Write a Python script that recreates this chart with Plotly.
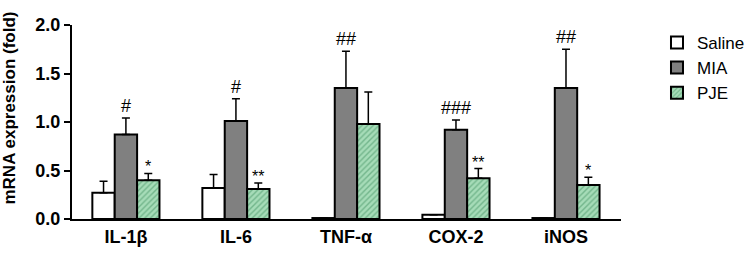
import plotly.graph_objects as go

genes = ["IL-1β", "IL-6", "TNF-α", "COX-2", "iNOS"]

saline = [0.27, 0.32, 0.01, 0.045, 0.01]
saline_err = [0.12, 0.14, 0, 0, 0]

mia = [0.87, 1.01, 1.35, 0.92, 1.35]
mia_err = [0.17, 0.23, 0.38, 0.10, 0.40]

pje = [0.40, 0.31, 0.98, 0.42, 0.35]
pje_err = [0.07, 0.06, 0.33, 0.10, 0.08]

mia_marks = ["#", "#", "##", "###", "##"]
pje_marks = ["*", "**", "", "**", "*"]


def err(vals):
    return dict(type="data", array=vals, arrayminus=[0] * len(vals), symmetric=False,
                color="black", thickness=1.5, width=4)


fig = go.Figure()
fig.add_bar(x=genes, y=saline, name="Saline", error_y=err(saline_err),
            marker=dict(color="white", line=dict(color="black", width=2)))
fig.add_bar(x=genes, y=mia, name="MIA", error_y=err(mia_err),
            marker=dict(color="#808080", line=dict(color="black", width=2)))
fig.add_bar(x=genes, y=pje, name="PJE", error_y=err(pje_err),
            marker=dict(color="#a6dcb8", line=dict(color="black", width=2),
                        pattern=dict(shape="/", fgcolor="#3f8f5f", size=4, solidity=0.35)))

# significance marks above the error bars
for g, v, e, m in zip(genes, mia, mia_err, mia_marks):
    fig.add_annotation(x=g, y=v + e, text=m, showarrow=False, yanchor="bottom",
                       yshift=0, font=dict(family="Arial", size=18, color="black"))
for g, v, e, m in zip(genes, pje, pje_err, pje_marks):
    if m:
        fig.add_annotation(x=g, y=v + e, text=m, showarrow=False, xshift=22.5, yanchor="bottom",
                           yshift=-4, font=dict(family="Arial", size=16, color="black"))

# y axis title, sitting against the left edge like the original
fig.add_annotation(xref="paper", yref="paper", x=0, y=0.572, xshift=-74, textangle=-90,
                   text="<b>mRNA expression (fold)</b>", showarrow=False,
                   font=dict(family="Arial", size=17, color="black"))

fig.update_layout(
    width=753, height=254,
    margin=dict(l=72, r=132, t=25, b=35, autoexpand=False),
    plot_bgcolor="white", paper_bgcolor="white",
    barmode="group", bargap=0.39, bargroupgap=0,
    legend=dict(xref="container", yref="container", x=0.8725, y=0.902,
                xanchor="left", yanchor="top",
                font=dict(family="Arial", size=17, color="black"),
                tracegroupgap=0, itemsizing="constant"),
    xaxis=dict(showline=True, linecolor="black", linewidth=2, ticks="",
               range=[-0.49, 4.5], automargin=False,
               tickfont=dict(family="Arial", size=18, color="black", weight="bold")),
    yaxis=dict(showline=True, linecolor="black", linewidth=2, ticks="outside",
               ticklen=6, tickwidth=2, tickcolor="black", range=[0, 2], dtick=0.5,
               tickformat=".1f", showgrid=False, zeroline=False, automargin=False,
               tickfont=dict(family="Arial", size=18, color="black", weight="bold")),
)

fig.write_html("out.html", config={"displayModeBar": False},
               post_script="document.body.style.margin='0';")
